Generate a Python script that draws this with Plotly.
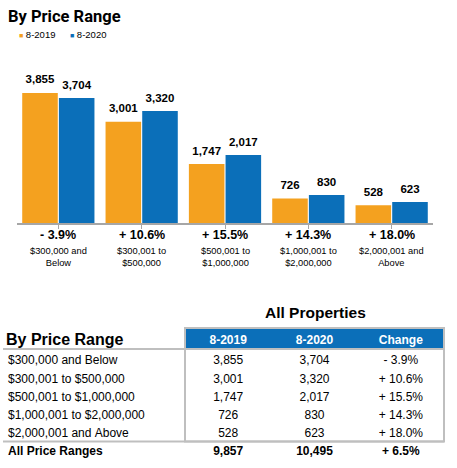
import plotly.graph_objects as go

# ---------------- data ----------------
price_ranges = ["$300,000 and Below", "$300,001 to $500,000", "$500,001 to $1,000,000",
                "$1,000,001 to $2,000,000", "$2,000,001 and Above"]
series_names = ["8-2019", "8-2020"]
values_2019 = [3855, 3001, 1747, 726, 528]
values_2020 = [3704, 3320, 2017, 830, 623]
pct_change = [-3.9, 10.6, 15.5, 14.3, 18.0]
total_label = "All Price Ranges"
total_2019 = 9857
total_2020 = 10495
total_change = 6.5
table_header = ["By Price Range", "8-2019", "8-2020", "Change"]
chart_title = "By Price Range"
table_title = "All Properties"

ORANGE = "#F4A11F"
BLUE = "#0B6FB9"
GRAY = "#BFBFBF"
FONT = "Liberation Sans"
CLEAR = "rgba(0,0,0,0)"
W, H = 457, 468


def px_x(p):
    return p / W


def px_y(p):
    return 1 - p / H


def fmt_change(c):
    return ("- " if c < 0 else "+ ") + f"{abs(c):.1f}%"


def nb(s):
    return s.replace(" ", "\u00a0")


def two_line(s):
    i = s.rfind(" ")
    return s[:i] + "<br>" + s[i + 1:]


x_idx = list(range(len(price_ranges)))

# invisible padding that lifts the outside bar labels a few pixels (keeps them centred)
lift = "<sub><span style='font-size:19px'>\u00a0</span></sub>"

fig = go.Figure()
for name, vals, col in [(series_names[0], values_2019, ORANGE), (series_names[1], values_2020, BLUE)]:
    fig.add_trace(go.Bar(
        x=x_idx, y=vals, name=name, marker=dict(color=col, line=dict(width=0)),
        texttemplate=lift + "%{y:,}" + lift, textposition="outside", cliponaxis=False,
        constraintext="none",
        textfont=dict(family=FONT, size=11.5, color="black", weight="bold"),
        showlegend=False, xaxis="x", yaxis="y", hoverinfo="skip",
    ))

# ---------------- table ----------------
col_widths = [185, 86.33, 86.33, 86.33]
tbl_right = 444
hdr_top = 326.6
hdr_h = 20.7
row_h = 18.2

fig.add_trace(go.Table(
    domain=dict(x=[0, px_x(tbl_right)], y=[0, px_y(hdr_top)]),
    columnwidth=col_widths,
    header=dict(
        values=[""] + table_header[1:],
        fill=dict(color=CLEAR),
        font=dict(family=FONT, size=12, color="white", weight="bold"),
        align=["left", "center", "center", "center"],
        line=dict(color=CLEAR, width=0),
        height=hdr_h,
    ),
    cells=dict(
        values=[[nb(s) for s in price_ranges],
                [f"{v:,}" for v in values_2019],
                [f"{v:,}" for v in values_2020],
                [nb(fmt_change(c)) for c in pct_change]],
        fill=dict(color=CLEAR),
        font=dict(family=FONT, size=12, color="black"),
        align=["left", "center", "center", "center"],
        line=dict(color=CLEAR, width=0),
        height=row_h,
    ),
))
total_top = hdr_top + hdr_h + 5 * row_h
fig.add_trace(go.Table(
    domain=dict(x=[0, px_x(tbl_right)], y=[0, px_y(total_top)]),
    columnwidth=col_widths,
    header=dict(
        values=[nb(total_label), f"{total_2019:,}", f"{total_2020:,}", nb(fmt_change(total_change))],
        fill=dict(color=CLEAR),
        font=dict(family=FONT, size=12, color="black", weight="bold"),
        align=["left", "center", "center", "center"],
        line=dict(color=CLEAR, width=0),
        height=row_h,
    ),
    cells=dict(values=[], fill=dict(color=CLEAR), line=dict(color=CLEAR, width=0)),
))

annotations = []
annotations.append(dict(text=f"<b>{chart_title}</b>", x=px_x(6), y=px_y(17), xref="paper", yref="paper",
                        xanchor="left", yanchor="middle", showarrow=False,
                        font=dict(family="Roboto", size=16.5, color="black")))
for name, col, xp in [(series_names[0], ORANGE, 17), (series_names[1], BLUE, 68)]:
    annotations.append(dict(text=f'<span style="color:{col};font-size:7px">■</span> {name}',
                            x=px_x(xp), y=px_y(35), xref="paper", yref="paper",
                            xanchor="left", yanchor="middle", showarrow=False,
                            font=dict(family=FONT, size=9.5, color="black")))
for i, c in enumerate(pct_change):
    annotations.append(dict(text=f"<b>{fmt_change(c)}</b>", x=i, y=px_y(235), xref="x", yref="paper",
                            xanchor="center", yanchor="middle", showarrow=False,
                            font=dict(family=FONT, size=12.5, color="black")))
    annotations.append(dict(text=two_line(price_ranges[i]), x=i, y=px_y(256.5), xref="x", yref="paper",
                            xanchor="center", yanchor="middle", showarrow=False,
                            font=dict(family=FONT, size=9.3, color="black")))
annotations.append(dict(text=f"<b>{table_title}</b>", x=px_x(315), y=px_y(312), xref="paper", yref="paper",
                        xanchor="center", yanchor="middle", showarrow=False,
                        font=dict(family=FONT, size=15.5, color="black")))
annotations.append(dict(text=f"<b>{table_header[0]}</b>", x=px_x(4), y=px_y(339), xref="paper", yref="paper",
                        xanchor="left", yanchor="middle", showarrow=False,
                        font=dict(family=FONT, size=16, color="black")))

shapes = [
    dict(type="rect", xref="paper", yref="paper", x0=px_x(185), x1=px_x(444), y0=px_y(328), y1=px_y(349),
         fillcolor=BLUE, line=dict(width=0), layer="below"),
    dict(type="rect", xref="paper", yref="paper", x0=px_x(185), x1=px_x(444), y0=px_y(328), y1=px_y(441.5),
         line=dict(color=GRAY, width=2), layer="below"),
    dict(type="line", xref="paper", yref="paper", x0=px_x(3), x1=px_x(444), y0=px_y(349), y1=px_y(349),
         line=dict(color=GRAY, width=2), layer="below"),
    dict(type="line", xref="paper", yref="paper", x0=px_x(3), x1=px_x(444), y0=px_y(441.5), y1=px_y(441.5),
         line=dict(color=GRAY, width=2), layer="below"),
]

baseline = 223
scale = 0.03375
ymax = 4500
top = baseline - ymax * scale

fig.update_layout(
    width=W, height=H,
    margin=dict(l=0, r=0, t=0, b=0),
    paper_bgcolor="white", plot_bgcolor="white",
    barmode="group", bargap=0.12, bargroupgap=0.03,
    xaxis=dict(domain=[px_x(16.67), px_x(433.33)], range=[-0.5, 4.5], showline=True,
               linecolor="#A6A6A6", linewidth=1.5, ticks="outside", tickson="boundaries",
               ticklen=4, tickcolor="#A6A6A6", tickwidth=1, showticklabels=False,
               showgrid=False, zeroline=False, fixedrange=True),
    yaxis=dict(domain=[px_y(baseline), px_y(top)], range=[0, ymax], visible=False,
               showgrid=False, zeroline=False, fixedrange=True),
    annotations=annotations,
    shapes=shapes,
    font=dict(family=FONT),
)

fig.write_html("out.html", config={"displayModeBar": False},
               post_script="document.body.style.margin='0';")
